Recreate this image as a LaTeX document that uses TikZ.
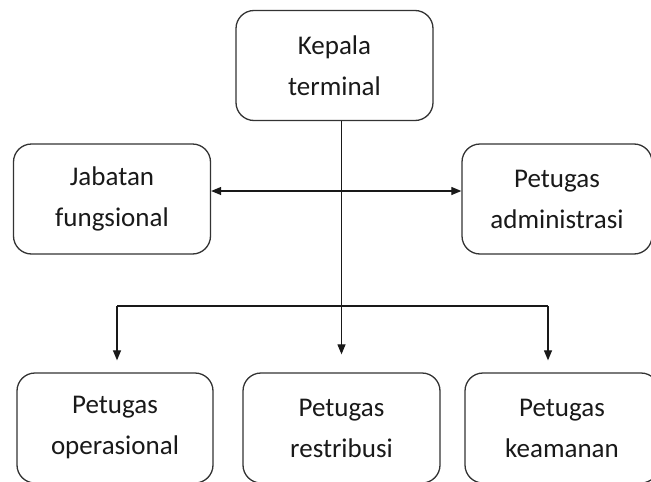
\documentclass[tikz,border=0pt]{standalone}
\usepackage{fontspec}
\setmainfont{Carlito}
\usetikzlibrary{arrows.meta}

\begin{document}
\begin{tikzpicture} [
			x=1pt, y=-1pt,
			box/.style={rectangle, draw=black!80, line width=1.3pt, rounded corners=18pt,
				minimum width=197pt, minimum height=110pt, inner sep=0pt,
				font=\fontsize{27}{41}\selectfont, text=black!90},
			line/.style={line width=1.2pt, draw=black!90},
			arrow/.style={line, -{Triangle[width=8pt,length=10pt]}},
			dblarrow/.style={line, {Triangle[width=8pt,length=10pt]}-{Triangle[width=8pt,length=10pt]}},
			align=center
		]
		\useasboundingbox (0,0) rectangle (651,482);
		\node at (334.5,65.5) [box] (kepala) {Kepala\\terminal};
		\node at (112,199) [box] (jabatan) {Jabatan\\fungsional};
		\node at (557,199) [box, minimum width=190pt] (admin) {Petugas\\administrasi};
		\node at (115,428) [box, minimum width=196pt] (operasional) {Petugas\\operasional};
		\node at (341.5,428) [box] (restribusi) {Petugas\\restribusi};
		\node at (562,428) [box, minimum width=194pt] (keamanan) {Petugas\\keamanan};
		
		\coordinate (kiri) at (117,306);
		\coordinate (kanan) at (548,306);
		
		\draw [dblarrow] ([yshift=8pt]jabatan.east) -- ([yshift=8pt]admin.west);
		\draw [arrow, shorten >=18pt] (kepala.south -| restribusi.north) -- (restribusi.north);
		\draw [line] (kiri) -- (kanan);
		\draw [arrow, shorten >=12pt] (kiri) -- (kiri |- operasional.north);
		\draw [arrow, shorten >=12pt] (kanan) -- (kanan |- keamanan.north);
	\end{tikzpicture}
\end{document}
